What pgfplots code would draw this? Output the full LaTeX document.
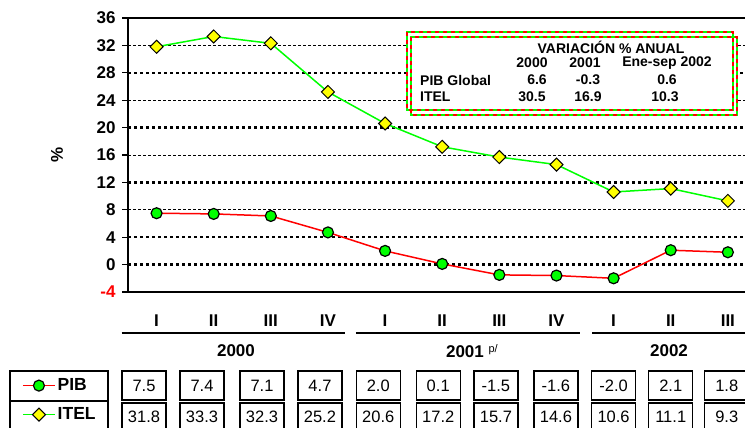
\documentclass[border=0pt]{standalone}
\usepackage{pgfplots}
\pgfplotsset{compat=1.18}
\usepackage{pgfplotstable}
\usepackage{fontspec}
\setmainfont{Liberation Sans}
\definecolor{lgreen}{RGB}{0,255,0}
\definecolor{lyellow}{RGB}{255,255,0}
\newcommand{\fs}[1]{\fontsize{#1bp}{#1bp}\selectfont}

\pgfplotstableread{
x bx pib itel
0 -0.22 7.5 31.8
1 0.795 7.4 33.3
2 1.845 7.1 32.3
3 2.86 4.7 25.2
4 3.88 2.0 20.6
5 4.93 0.1 17.2
6 5.94 -1.5 15.7
7 6.99 -1.6 14.6
8 8.0 -2.0 10.6
9 9.0 2.1 11.1
10 9.98 1.8 9.3
}\data

\begin{document}
\begin{tikzpicture}
\useasboundingbox (0,0) rectangle (745bp,428bp);
\begin{axis}[
  at={(128bp,136bp)}, anchor=south west,
  width=617bp, height=274bp, scale only axis,
  xmin=-0.5, xmax=10.3, ymin=-4, ymax=36,
  axis x line=box, axis y line*=left,
  axis line style={line width=2bp, black},
  ytick={-4,0,...,36},
  yticklabels={\textcolor{red}{-4},0,4,8,12,16,20,24,28,32,36},
  yticklabel style={font=\bfseries\fs{17}, xshift=-3bp},
  y tick style={line width=1.2bp, black},
  tick align=outside, major tick length=6bp,
  xtick={0,...,10},
  xticklabels={I,II,III,IV,I,II,III,IV,I,II,III},
  x tick style={draw=none},
  xticklabel style={font=\bfseries\fs{17}, anchor=center, yshift=-23bp},
  extra y ticks={0,4,12,20,28},
  extra y tick labels={},
  extra y tick style={grid=major, major tick length=0pt,
     major grid style={line width=2.5bp, dash pattern=on 3bp off 3bp, black}},
  minor ytick={8,16,24,32}, yminorgrids=true, minor tick length=0pt,
  minor grid style={line width=0.7bp, dash pattern=on 3bp off 2bp, black},
  clip=false,
  legend image code/.code={\draw[mark repeat=2,mark phase=2,#1] plot coordinates {(0bp,0bp) (16bp,0bp) (32bp,0bp)};},
  legend style={at={(axis description cs:-0.1718,-0.288)}, anchor=north west,
     draw=none, fill=none, font=\bfseries\fs{17.5}, row sep=0pt, inner sep=0pt,
     cells={anchor=west}, nodes={inner sep=2bp, minimum height=29bp}},
]
\addplot[red, line width=1.5bp, mark=*, mark size=5.5bp,
  mark options={fill=lgreen, draw=black, line width=1.2bp, solid}]
  table[x=x, y=pib]{\data};
\addlegendentry{PIB}
\addplot[lgreen, line width=1.5bp, mark=square*, mark size=4.6bp,
  mark options={fill=lyellow, draw=black, line width=1bp, rotate=45, solid}]
  table[x=x, y=itel]{\data};
\addlegendentry{ITEL}

\addplot[draw=none, forget plot, nodes near coords, point meta=explicit symbolic,
  nodes near coords style={anchor=center, draw=black, line width=1.4bp, text=black,
  minimum width=44bp, minimum height=29bp, inner sep=0pt, font=\fs{16.5}}]
  table[x=bx, y expr=-17.65, meta=pib]{\data};
\addplot[draw=none, forget plot, nodes near coords, point meta=explicit symbolic,
  nodes near coords style={anchor=center, draw=black, line width=1.4bp, text=black,
  minimum width=44bp, minimum height=28bp, inner sep=0pt, font=\fs{16.5}}]
  table[x=bx, y expr=-22.25, meta=itel]{\data};

\draw[line width=2bp] (axis cs:-0.61,-10) -- (axis cs:3.3,-10);
\draw[line width=2bp] (axis cs:3.49,-10) -- (axis cs:7.41,-10);
\draw[line width=2bp] (axis cs:7.63,-10) -- (axis cs:10.4,-10);
\node[font=\bfseries\fs{17}] at (axis cs:1.39,-12.6) {2000};
\node[font=\bfseries\fs{17}] at (axis cs:5.52,-12.6) {2001\;\raisebox{5bp}{\fs{11}\mdseries p/}};
\node[font=\bfseries\fs{17}] at (axis cs:8.97,-12.6) {2002};
\end{axis}

% y label, rotated
\node[font=\bfseries\fs{17}, rotate=90] at (57bp,273bp) {\%};

% legend frame
\draw[line width=1.5bp] (10bp,-3bp) rectangle (108bp,57bp);
\draw[line width=1.5bp] (10bp,27bp) -- (108bp,27bp);

% summary box
\fill[white] (407bp,396bp) rectangle (737bp,313bp);
\draw[lgreen, line width=1.3bp] (407bp,396bp) rectangle (733bp,318bp);
\draw[red, line width=1.3bp, dash pattern=on 4bp off 4bp] (407bp,396bp) rectangle (733bp,318bp);
\draw[lgreen, line width=1.3bp] (411bp,391bp) rectangle (737bp,313bp);
\draw[red, line width=1.3bp, dash pattern=on 4bp off 4bp] (411bp,391bp) rectangle (737bp,313bp);
\begin{scope}[every node/.style={font=\bfseries\fs{14}, inner sep=0pt}]
\node at (611bp,381bp) {VARIACIÓN \% ANUAL};
\node at (532bp,365bp) {2000};
\node at (585bp,365bp) {2001};
\node at (667bp,365bp) {Ene-sep 2002};
\node[anchor=west] at (420bp,348bp) {PIB Global};
\node at (537bp,348bp) {6.6};
\node at (588bp,348bp) {-0.3};
\node at (667bp,348bp) {0.6};
\node[anchor=west] at (420bp,331bp) {ITEL};
\node at (532bp,331bp) {30.5};
\node at (588bp,331bp) {16.9};
\node at (665bp,331bp) {10.3};
\end{scope}
\end{tikzpicture}
\end{document}
